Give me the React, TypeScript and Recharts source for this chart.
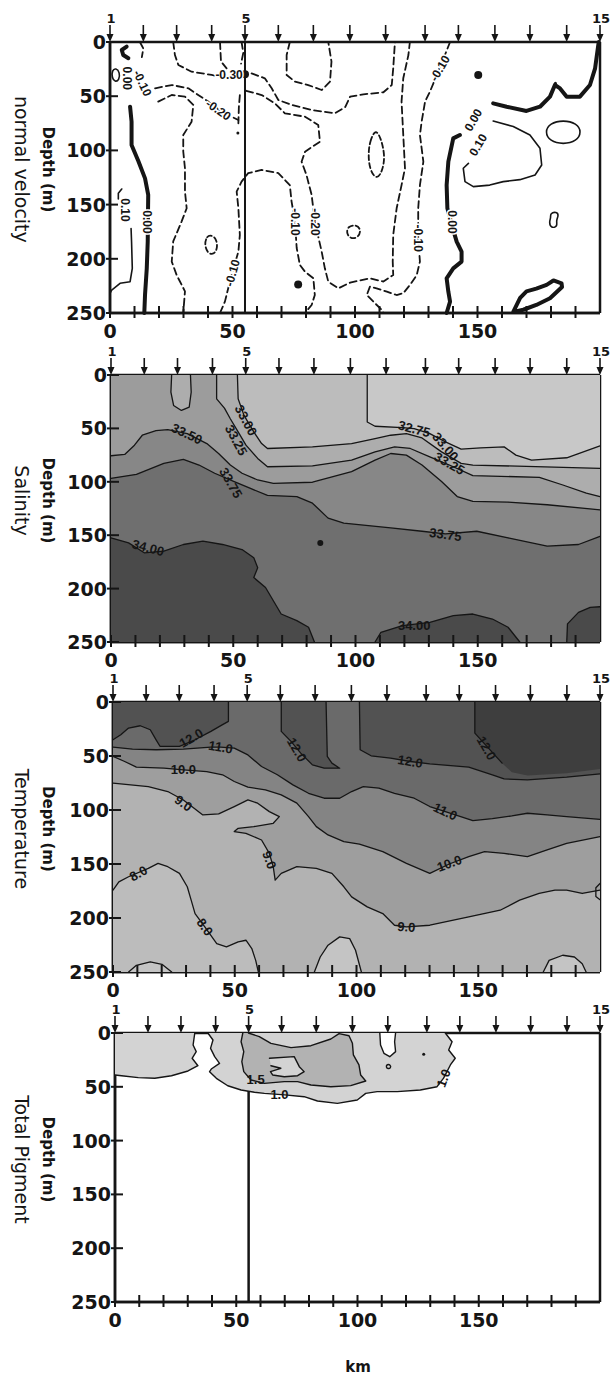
import React from 'react'
import { ScatterChart, Scatter, XAxis, YAxis, ReferenceLine } from 'recharts'

type XY = [number, number]
type Lbl = [string, number, number, number]

// stations along the section (km) and the ones that carry a number
const stationKm = [0, 13.6, 27.2, 41.5, 55.1, 68.7, 83, 97.9, 112.5, 128.6, 142.2, 157.1, 171.4, 186.4, 200]
const labeledStations = [1, 5, 15]
const kmTicks = [0, 10, 20, 30, 40, 50, 60, 70, 80, 90, 100, 110, 120, 130, 140, 150, 160, 170, 180, 190]
const depthTicks = [0, 50, 100, 150, 200, 250]

// ---- normal velocity ----
const velZero: XY[][] = [
  [[8.2, 59.7], [8.8, 73.5], [8.8, 95], [11.6, 110], [14.3, 125.8], [15.6, 141], [15.5, 160], [15.4, 184], [15, 209], [14.3, 233], [14, 250]],
  [[6.8, 4.3], [4.8, 7.4], [5.4, 12], [7.5, 15]],
  [[142.8, 85.8], [140.1, 88.9], [138.1, 110.4], [137.4, 132], [137.7, 153.4], [139.4, 168], [141.5, 184.2], [143.5, 193.4], [143.5, 202.6], [140.1, 208.8], [137.4, 218], [138.1, 230.3], [138.8, 239.5], [137.4, 250]],
  [[156.4, 56.6], [161.9, 59.7], [170, 63.6], [175.5, 59.7], [179.6, 50.4], [181.6, 39.7], [183.7, 42.8], [186.4, 50.4], [191.8, 50.4], [195.9, 39.7], [198, 24.3], [199.3, 2.8], [199.5, 0]],
  [[164.6, 249], [167.4, 236], [170, 230], [174, 227.5], [178.2, 224], [181, 220], [184.3, 222.6], [184.5, 226], [179.6, 236.4], [174, 242.6], [168.7, 247], [164.6, 249]],
]
const velPos: XY[][] = [
  [[0, 232], [0.7, 228.8], [4.1, 222.6], [8.2, 221.1], [9.1, 208.8], [8.8, 184.2], [8.6, 172]],
  [[4.8, 135.6], [3.4, 139.6], [3.4, 144.8]],
  [[156.4, 72.9], [164.6, 78], [171.4, 85.8], [175.5, 98], [176.2, 113.5], [173.5, 122.7], [167.3, 127], [160.5, 128.8], [155, 132], [148.3, 133.4], [144.9, 128.8], [144.2, 116.5], [146.3, 112]],
]
const velPosLoops: XY[][] = [
  [[177.5, 83], [179.5, 75], [185, 72], [190.5, 75], [192.5, 83], [190.5, 91.5], [185, 94.5], [179.5, 91.5]],
  [[179.6, 158], [182.3, 156.5], [183.2, 160], [182, 165], [182.8, 170], [180, 172], [179.2, 166], [180, 162]],
  [[0.8, 26], [2.5, 24], [4, 28], [3.8, 35], [2, 37], [0.8, 33]],
]
const velNeg: XY[][] = [
  [[12.2, 0], [13.6, 6], [13, 14]],
  [[18.4, 42.7], [25.2, 39.7], [32, 42.7], [36, 48.9], [40.1, 55], [44.2, 62], [49.6, 68.9], [52.4, 72]],
  [[19.7, 55], [25.2, 48.9], [30.6, 50.4], [34, 58], [33.3, 73.5], [29.9, 85.8], [29.9, 101], [30.6, 116.5], [30.6, 138], [31.3, 153.4], [29.2, 165.7], [25.8, 184], [25.2, 202.6], [27.2, 215], [30.6, 230], [29.9, 250]],
  [[25.8, 0], [26.5, 12], [27.9, 21.2], [33.3, 27.4], [41.5, 30.4], [44.2, 32]],
  [[44.9, 0], [45.3, 18], [47.6, 24.3]],
  [[44.9, 250], [46.9, 239.5], [49.6, 215], [52.4, 193.4], [53, 178], [52.4, 153.4], [51.7, 138], [53.7, 128.8], [56.4, 121], [61.9, 118], [68.7, 121], [73.4, 132], [74.1, 147], [75.5, 165.7], [76.2, 190], [77.5, 205.7], [79.6, 211.9], [83, 218], [83.6, 233.4], [82.3, 242.6], [79.6, 250]],
  [[57.8, 28.9], [63.2, 33.5], [66, 42.7], [68.7, 53.5], [74.1, 58], [82.3, 62.7], [91.8, 65.8], [96, 60], [98, 50.4], [103.4, 48.3], [111.6, 46.4], [115, 39.7], [115.6, 24.3], [116.3, 0]],
  [[55.6, 45], [61.9, 48.9], [67.3, 56.6], [71.4, 65.8], [79.6, 68.9], [85, 76.6], [85.7, 92], [79.6, 101.2], [78.2, 110.4], [80.2, 122.7], [82.3, 141.1], [83.6, 165.7], [86.4, 193.4], [87.7, 208.8], [89.1, 221.1], [93.2, 227.2], [98, 222], [106.1, 218], [111.6, 221], [115.6, 215], [115.4, 202.6], [115.6, 178], [117, 153.4], [119, 132], [120.4, 116.5], [119.7, 85.8], [119, 55], [119.7, 33.5], [121.8, 12], [122.4, 0]],
  [[138.8, 0], [136.7, 12], [130.6, 45.8], [128.6, 55], [127.2, 73.5], [126.5, 85.8], [127.9, 110.4], [126.5, 132], [125.8, 153.4], [125.8, 181], [126.5, 202.6], [125.2, 215], [122.4, 224.2], [119.7, 231.8], [117, 233.4], [113, 230.3], [108.8, 227.2], [106.1, 225.7], [104.8, 233.4], [107.5, 239.5], [110.9, 247.2], [111.6, 250]],
  [[73.4, 0], [72.1, 12], [72.1, 30.4], [75.5, 36.6], [80.9, 39.7], [86.4, 44.3], [89.8, 36.6], [90.4, 18.1], [89.1, 0]],
  [[53.7, 0], [54.4, 10], [53.5, 20]],
  [[53, 49], [52.6, 60], [52.4, 75]],
]
const velNegLoops: XY[][] = [
  [[38.5, 187], [39.5, 179], [41.5, 178], [43.5, 182], [43.9, 190], [42.5, 196], [40, 195.5]],
  [[105.4, 104], [106, 92], [108.3, 80], [110.5, 88], [112.2, 104], [111.5, 117], [109, 128], [106, 118]],
  [[97, 170], [100.5, 168.5], [102.5, 173], [101.5, 180], [98.5, 182], [96.5, 177]],
]
const velBigDots: XY[] = [[55.1, 29.8], [76.8, 223.6], [150.3, 30.4]]
const velSmallDots: XY[] = [[181.8, 38], [52.2, 84]]
const velLabels: Lbl[] = [
  ['0.00', 6.8, 33.5, 90], ['-0.10', 13.2, 38, 65], ['-0.20', 44.2, 62.7, 35], ['-0.30', 48.6, 30.4, 0],
  ['0.00', 15.3, 166, 90], ['0.10', 6.3, 155, 90], ['-0.10', 50, 213, -75], ['-0.10', 75.5, 166, 90],
  ['-0.20', 83.6, 166, 90], ['-0.10', 134.7, 24.3, -60], ['-0.10', 125.8, 181, 90], ['0.00', 139.4, 166, 90],
  ['0.00', 148.3, 72, -60], ['0.10', 150.3, 95, -60],
]

// ---- salinity ----
const sal3275: XY[] = [[104.8, 0], [104.8, 44], [108, 48], [119.2, 49.3], [124, 50.2], [130.4, 54.9], [136.8, 62.6], [143.2, 69.4], [151.2, 68.2], [160.8, 67.3], [165.6, 75], [172, 79.7], [186.4, 77.5], [200, 66.3]]
const sal3300: XY[] = [[51.7, 0], [52, 22.3], [54.4, 37.8], [58.4, 53.3], [61.6, 64.2], [64, 68.8], [82.4, 67.3], [98.4, 64.2], [108, 59.5], [114.4, 56.4], [120.8, 54.9], [127.2, 58.9], [135.2, 72], [143.2, 82.8], [148, 84.3], [200, 87.4]]
const sal3325: XY[] = [[43.2, 0], [43.2, 22.3], [46.4, 31], [48.8, 41], [52, 53.3], [55.2, 65.7], [60, 78.1], [64, 85.9], [82.4, 85], [98.4, 79.7], [108, 72], [116, 67.3], [122.4, 68.8], [130.4, 76.6], [138.4, 84.3], [148, 94.2], [175.2, 95.8], [184.8, 103], [194.4, 110.7], [200, 113.8]]
const sal3350: XY[] = [[0, 75.6], [5.6, 74.4], [9.6, 65.7], [12.8, 56.4], [18.4, 52.1], [23.2, 51.2], [31.2, 54.9], [39.2, 64.2], [44, 73.5], [48.8, 84.3], [53.6, 92], [60, 98.3], [66.4, 101.4], [82.4, 100.4], [98.4, 90.5], [108, 79.7], [114.4, 73.5], [120.8, 75], [127.2, 84.3], [135.2, 99.8], [141.6, 113.8], [148, 118.4], [162.4, 119], [178.4, 121.5], [200, 126.2]]
const sal3375: XY[] = [[0, 96.7], [10.4, 93], [21.6, 82.8], [29.6, 79], [36, 84.3], [42.4, 92], [50.4, 99.8], [56.8, 106], [64, 112.8], [76, 113.8], [82.4, 120], [88.8, 134], [95.2, 138.6], [114.4, 143.2], [127.2, 146.3], [136.8, 148.8], [149.6, 146.3], [162.4, 152.5], [178.4, 160.3], [191.2, 158.7], [200, 151]]
const sal3400: XY[][] = [
  [[0, 152.5], [7.2, 157.2], [13.6, 166.5], [21.6, 165], [29.6, 158.7], [37.6, 155.6], [45.6, 158.7], [53.6, 163.4], [58.4, 171.1], [60, 180.4], [58.4, 189.7], [63.2, 199], [66.4, 211.4], [69.6, 223.8], [76, 230], [80.8, 236.2], [83.2, 250]],
  [[108, 250], [110.4, 240.9], [119.2, 234.7], [130.4, 231.6], [140, 225.4], [148, 223.8], [156, 228.5], [162.4, 236.2], [167.2, 250]],
  [[186.4, 250], [186.7, 233], [191.2, 222.3], [196, 217.6], [200, 217]],
]
const salOval: XY[] = [[24.8, 0], [24.5, 16], [25.6, 28.5], [28.8, 33.2], [32, 30], [32.8, 16], [32.5, 0]]
const salDots: XY[] = [[85.6, 157.2]]
const salLabels: Lbl[] = [
  ['33.50', 31, 55, 25], ['33.75', 49, 101, 60], ['33.00', 55.2, 42.5, 62], ['33.25', 51.2, 61, 62],
  ['34.00', 15.2, 161.8, 15], ['32.75', 124, 50.5, 15], ['33.00', 136.8, 67, 50], ['33.25', 138.4, 82.8, 30],
  ['33.75', 136.8, 149.4, 8], ['34.00', 124, 234.7, 0],
]

// ---- temperature ----
const tem12a: XY[] = [[47.4, 0], [47.4, 17.9], [45, 21], [40.2, 27.2], [33.7, 35], [27.3, 41], [19.3, 41], [17.7, 35], [15.3, 25.7], [11.2, 22], [6.4, 24.1], [3.2, 30.3], [0, 35]]
const tem12b: XY[] = [[69.1, 0], [69.1, 27.2], [73.1, 36.5], [77.1, 47.3], [81.9, 58.2], [86.7, 61.3], [93.1, 61.3], [89.9, 56.6], [88, 50.4], [87.5, 0]]
const tem12c: XY[] = [[101.2, 0], [101.5, 44.2], [106, 49.8], [114, 52], [122.1, 55.1], [130.1, 57.2], [146.1, 60.3], [155.8, 67.4], [160.6, 71.2], [170.2, 72.1], [186.3, 69.6], [200, 66.5]]
const tem13: XY[] = [[148.6, 0], [148.6, 28.8], [154.2, 42.7], [159.8, 56.6], [163.8, 65], [170.2, 68], [186.3, 66], [200, 62]]
const tem11: XY[] = [[0, 41.8], [8, 43.6], [17.7, 44.2], [28.9, 43.6], [40.2, 41.8], [44.2, 41.8], [49.8, 42.7], [55.4, 49], [61, 59.7], [67.5, 67.4], [73.9, 76.7], [80.3, 84.5], [86.7, 89.1], [93.1, 89.1], [98, 82.9], [102.8, 78.3], [109.2, 79.8], [115.6, 84.5], [123.7, 89.1], [130.1, 96.8], [136.5, 101.5], [147.8, 109.8], [155.8, 108], [163.8, 105.5], [170.2, 103], [178.3, 104.6], [186.3, 106.1], [200, 108.6]]
const tem10: XY[] = [[0, 50.4], [4.8, 55.1], [9.6, 60.3], [20.9, 61.3], [28.9, 62.8], [38.5, 64.4], [45, 67.4], [49.8, 73.6], [55.4, 78.9], [62.6, 81.4], [69.1, 86], [75.5, 93.7], [80.3, 106.1], [83.5, 115.4], [88.3, 123.1], [94.8, 129.3], [101.2, 131.5], [110.8, 138.6], [120.5, 149.4], [130.1, 158.7], [138.1, 150], [146.1, 143.2], [152.6, 138.6], [160.6, 140.2], [170.2, 143.2], [178.3, 137], [186.3, 130.9], [200, 124.7]]
const tem9: XY[] = [[0, 75.2], [14.5, 78.3], [22.5, 82.9], [28.9, 90.7], [36.9, 104.6], [43.4, 103.6], [49.8, 96.8], [55.4, 90.7], [59.4, 93.7], [64.2, 101.5], [68.3, 106.1], [65.8, 112.3], [57.8, 115.4], [51.4, 117], [49.8, 120], [54.6, 121.6], [61, 127.8], [64.2, 140.2], [65.8, 152.5], [66.6, 164.9], [69.1, 158.7], [75.5, 152.5], [83.5, 154.1], [89.9, 158.7], [94.8, 171.1], [98, 180.4], [104.4, 189.7], [110.8, 195.9], [115.6, 206.7], [120.5, 208.3], [130.1, 206.7], [146.1, 199], [159, 192.8], [167, 183.5], [175, 177.3], [181.5, 174.2], [186.3, 174.2], [192.7, 177.3], [200, 174.2]]
const tem8: XY[] = [[0, 174.2], [2.4, 166.5], [6.4, 161.8], [14.5, 154.1], [18.5, 149.4], [22.5, 152.5], [27.3, 158.7], [30.5, 171.1], [32.1, 183.5], [33.7, 195.9], [37.7, 208.3], [42.6, 223.7], [46.6, 226.8], [51.4, 222.1], [54.6, 220.6], [57, 228.3], [58.6, 239.2], [59.7, 250]]
const temBumps: XY[][] = [
  [[6.4, 250], [9.6, 243.8], [15.3, 240.7], [20.1, 242.9], [24.1, 250]],
  [[82.7, 250], [85.1, 236.1], [88.3, 225.2], [93.1, 217.5], [97.2, 219.1], [99.6, 229.9], [102, 250]],
  [[176.7, 250], [179.1, 239.2], [184.7, 234.5], [189.5, 236.1], [192.7, 242.3], [194.3, 250]],
  [[200, 168], [198.3, 172], [198.3, 180], [200, 183]],
]
const temLabels: Lbl[] = [
  ['12.0', 32.1, 33.4, -30], ['11.0', 44.2, 41.8, 10], ['10.0', 28.9, 62.8, 0], ['9.0', 28.9, 93.7, 35],
  ['9.0', 64.2, 146.3, 70], ['8.0', 10.4, 158.7, -30], ['8.0', 37.7, 208.3, 55], ['12.0', 75.5, 44.2, 60],
  ['12.0', 122.1, 55.1, 10], ['12.0', 153.4, 42.7, 60], ['11.0', 136.5, 101.5, 25], ['10.0', 138.1, 149.4, -20],
  ['9.0', 120.5, 208.3, 5],
]

// ---- total pigment ----
const pigLeft: XY[] = [[0, 0], [32.9, 0], [32.2, 11.2], [33.5, 17.3], [31.8, 23.5], [34.2, 30.4], [30.1, 35.3], [23.3, 39.7], [16.4, 42.1], [9.6, 41.5], [2.7, 39.7], [0, 39]]
const pigMain: XY[] = [[38.3, 0], [40.4, 6.5], [39.4, 14.3], [41.1, 22], [43.1, 28.2], [39.7, 33.5], [39, 35.9], [41.8, 42.1], [46.5, 49], [52, 53], [57.5, 55.1], [61.6, 56.1], [70, 57.5], [78, 59.2], [83.5, 63.2], [91.7, 65.4], [99.9, 62.3], [103.4, 56.1], [108.1, 54.5], [116.4, 54.5], [125.9, 53], [132.8, 49.9], [135.5, 42], [138.3, 29.7], [140.3, 23.5], [137.6, 15.8], [139, 8.1], [136.2, 0]]
const pigHole: XY[] = [[109.2, 0], [109.5, 11.2], [110.9, 18.9], [113.3, 22], [115.7, 17.3], [115.3, 8.1], [115.7, 0]]
const pigCore: XY[] = [[55, 0], [59.5, 3.4], [64.3, 9.6], [72.6, 13.6], [80.8, 11.8], [89, 5.6], [92.4, 0.6], [96.5, 2.5], [97.9, 9.6], [98.3, 20.4], [100.6, 29.7], [101.3, 39], [103.4, 44.6], [97.2, 48.9], [89, 49.9], [80.8, 48.3], [75.3, 45.2], [69.8, 45.2], [61.6, 46.8], [56.1, 43.7], [53.1, 35.9], [52.3, 26.6], [53.1, 17.3], [52, 8.1], [52.7, 0]]
const pigIsland: XY[] = [[63.7, 23.5], [73.9, 22], [76, 31.3], [78, 35.9], [75.3, 39.7], [69.8, 40.6], [65, 39], [64.1, 35.9], [68.4, 32.8], [64.3, 30.4]]
const pigLoop: XY[] = [[112.2, 29], [113.6, 29.5], [113.8, 32.5], [112.5, 33.5], [111.7, 31.5]]
const pigDots: XY[] = [[127.3, 19.8]]
const pigLabels: Lbl[] = [['1.5', 58, 43, 0], ['1.0', 67.8, 57.6, 0], ['1.0', 135.5, 42, -70]]

const INK = '#151515'
const TICK_FONT = { fontFamily: 'DejaVu Sans', fontWeight: 700, fontSize: 19 }
const pts = (a: XY[]) => a.map(([x, y]) => ({ x, y }))
const noDot = () => null

function area(key: string, a: XY[], fill: string) {
  return (
    <Scatter key={key} data={pts(a)} shape={noDot} isAnimationActive={false}
      line={{ fill, stroke: 'none' }} lineJointType="linearClosed" />
  )
}

function contour(key: string, a: XY[], width: number, dash?: string, closed?: boolean) {
  return (
    <Scatter key={key} data={pts(a)} shape={noDot} isAnimationActive={false}
      line={{ stroke: INK, strokeWidth: width, strokeDasharray: dash, fill: 'none', strokeLinejoin: 'round', strokeLinecap: 'round' }}
      lineJointType={closed ? 'basisClosed' : 'linear'} />
  )
}

function dots(key: string, a: XY[], r: number) {
  return (
    <Scatter key={key} data={pts(a)} isAnimationActive={false}
      shape={(p: any) => <circle cx={p.cx} cy={p.cy} r={r} fill={INK} />} />
  )
}

function labels(key: string, list: Lbl[], halo: boolean, size: number) {
  const data = list.map(([t, x, y, a]) => ({ x, y, t, a }))
  return (
    <Scatter key={key} data={data} isAnimationActive={false}
      shape={(p: any) => (
        <text x={p.cx} y={p.cy} transform={`rotate(${p.payload.a} ${p.cx} ${p.cy})`} textAnchor="middle"
          dominantBaseline="central" fontFamily="Liberation Sans" fontWeight={700} fontSize={size} fill={INK}
          stroke={halo ? '#fff' : 'none'} strokeWidth={3} paintOrder="stroke">{p.payload.t}</text>
      )} />
  )
}

function stations() {
  const data = stationKm.map((x, i) => ({ x, y: 0, n: i + 1 }))
  return (
    <Scatter key="stations" data={data} isAnimationActive={false}
      shape={(p: any) => (
        <g>
          <line x1={p.cx} x2={p.cx} y1={p.cy - 17} y2={p.cy - 6} stroke={INK} strokeWidth={1.6} />
          <path d={`M${p.cx - 3.5},${p.cy - 8}L${p.cx + 3.5},${p.cy - 8}L${p.cx},${p.cy}Z`} fill={INK} />
          {labeledStations.includes(p.payload.n) && (
            <text x={p.cx + 1} y={p.cy - 19} textAnchor="middle" fontFamily="DejaVu Sans" fontWeight={700}
              fontSize={13} fill={INK}>{p.payload.n}</text>
          )}
        </g>
      )} />
  )
}

const under = (a: XY[]): XY[] => [...a, [200, 250], [0, 250], [0, 0]]
const above = (a: XY[]): XY[] => [...a, [200, 0], [0, 0]]
const full: XY[] = [[0, 0], [200, 0], [200, 250], [0, 250]]

function velocitySeries() {
  return [
    ...velZero.map((c, i) => contour(`vz${i}`, c, 4)),
    ...velPos.map((c, i) => contour(`vp${i}`, c, 1.6)),
    ...velPosLoops.map((c, i) => contour(`vpl${i}`, c, 1.6, undefined, true)),
    ...velNeg.map((c, i) => contour(`vn${i}`, c, 1.8, '7 4')),
    ...velNegLoops.map((c, i) => contour(`vnl${i}`, c, 1.8, '5 3', true)),
    dots('vbd', velBigDots, 4),
    dots('vsd', velSmallDots, 1.5),
    labels('vl', velLabels, true, 12),
  ]
}

function salinitySeries() {
  return [
    area('sb', full, '#c8c8c8'),
    area('s1', under(sal3275), '#bcbcbc'),
    area('s2', under(sal3300), '#adadad'),
    area('s3', under(sal3325), '#9c9c9c'),
    area('so', salOval, '#adadad'),
    area('s4', [...sal3350, [200, 250], [0, 250]], '#878787'),
    area('s5', [...sal3375, [200, 250], [0, 250]], '#6f6f6f'),
    area('s6a', [...sal3400[0], [0, 250]], '#4a4a4a'),
    area('s6b', sal3400[1], '#4a4a4a'),
    area('s6c', [...sal3400[2], [200, 250]], '#4a4a4a'),
    ...[sal3275, sal3300, sal3325, sal3350, sal3375, salOval, ...sal3400].map((c, i) => contour(`sc${i}`, c, 1.3)),
    dots('sd', salDots, 3),
    labels('sl', salLabels, false, 13),
  ]
}

function temperatureSeries() {
  return [
    area('tb', full, '#b2b2b2'),
    area('t8', [...tem8, [0, 250]], '#bcbcbc'),
    ...temBumps.slice(0, 3).map((c, i) => area(`tbu${i}`, c, '#c4c4c4')),
    area('t9', above(tem9), '#9e9e9e'),
    area('t10', above(tem10), '#848484'),
    area('t11', above(tem11), '#6a6a6a'),
    area('t12a', [...tem12a, [0, 0]], '#525252'),
    area('t12b', tem12b, '#525252'),
    area('t12c', [...tem12c, [200, 0]], '#525252'),
    area('t13', [...tem13, [200, 0]], '#3e3e3e'),
    ...[tem12a, tem12b, tem12c, tem13.slice(0, 4), tem11, tem10, tem9, tem8, ...temBumps].map((c, i) => contour(`tc${i}`, c, 1.3)),
    labels('tl', temLabels, false, 13),
  ]
}

function pigmentSeries() {
  return [
    area('pl', pigLeft, '#d3d3d3'),
    area('pm', pigMain, '#d3d3d3'),
    area('ph', pigHole, '#ffffff'),
    area('pc', pigCore, '#b2b2b2'),
    area('pi', pigIsland, '#d3d3d3'),
    ...[pigLeft.slice(1), pigMain, pigHole, pigCore, pigIsland].map((c, i) => contour(`pc${i}`, c, 1.4)),
    contour('ploop', pigLoop, 1.4, undefined, true),
    dots('pd', pigDots, 1.5),
    labels('plab', pigLabels, false, 13),
  ]
}

function KmTick(props: any) {
  const { x, y, payload } = props
  return (
    <g>
      <line x1={x} x2={x} y1={y - 7} y2={y + 5} stroke={INK} strokeWidth={2} />
      {payload.value % 50 === 0 && (
        <text x={x} y={y + 25} textAnchor="middle" fill={INK} {...TICK_FONT}>{payload.value}</text>
      )}
    </g>
  )
}

function DepthTick(props: any) {
  const { x, y, payload } = props
  return (
    <g>
      <line x1={x - 4} x2={x + 8} y1={y} y2={y} stroke={INK} strokeWidth={2} />
      <text x={x - 4} y={y + 7} textAnchor="end" fill={INK} {...TICK_FONT}>{payload.value}</text>
    </g>
  )
}

const panels = [
  { key: 'vel', top: 42, left: 110, right: 600, bottom: 313, title: 'normal velocity', st5: 2, series: velocitySeries },
  { key: 'sal', top: 375, left: 111, right: 600, bottom: 642, title: 'Salinity', st5: 1.2, series: salinitySeries },
  { key: 'tem', top: 702, left: 113, right: 600, bottom: 972, title: 'Temperature', st5: 1.2, series: temperatureSeries },
  { key: 'pig', top: 1033, left: 115, right: 600, bottom: 1302, title: 'Total Pigment', st5: 2.5, series: pigmentSeries },
]

const PAD_TOP = 45
const PAD_BOTTOM = 60
const frame = { stroke: INK, strokeWidth: 2.5 }

function Panel({ cfg }: { cfg: typeof panels[number] }) {
  const plotH = cfg.bottom - cfg.top
  return (
    <div style={{ position: 'absolute', left: 0, top: cfg.top - PAD_TOP }}>
      <ScatterChart width={613} height={PAD_TOP + plotH + PAD_BOTTOM}
        margin={{ top: PAD_TOP, right: 613 - cfg.right, bottom: PAD_BOTTOM - 40, left: 0 }}>
        <XAxis type="number" dataKey="x" domain={[0, 200]} ticks={kmTicks} interval={0} height={40}
          tickSize={0} tickMargin={0} tickLine={false} axisLine={frame} tick={(p: any) => <KmTick {...p} />} />
        <YAxis type="number" dataKey="y" domain={[0, 250]} reversed ticks={depthTicks} interval={0} width={cfg.left}
          tickSize={0} tickMargin={0} tickLine={false} axisLine={frame} tick={(p: any) => <DepthTick {...p} />} />
        {cfg.series()}
        <ReferenceLine x={stationKm[4]} stroke={INK} strokeWidth={cfg.st5} />
        <ReferenceLine y={0} {...frame} />
        <ReferenceLine y={250} {...frame} />
        <ReferenceLine x={0} {...frame} />
        <ReferenceLine x={200} {...frame} />
        {stations()}
      </ScatterChart>
    </div>
  )
}

export default function App() {
  return (
    <div style={{ position: 'absolute', left: 0, top: 0, width: 613, height: 1380, background: '#fff', overflow: 'hidden' }}>
      {panels.map(cfg => <Panel key={cfg.key} cfg={cfg} />)}
      <svg width={613} height={1380} style={{ position: 'absolute', left: 0, top: 0, pointerEvents: 'none' }}>
        {panels.map(cfg => {
          const cy = cfg.top + (cfg.bottom - cfg.top) * 0.47
          return (
            <g key={cfg.key}>
              <text transform={`translate(48 ${cy}) rotate(90)`} textAnchor="middle" dominantBaseline="central"
                fontFamily="DejaVu Sans" fontWeight={700} fontSize={15} fill={INK}>Depth (m)</text>
              <text transform={`translate(22 ${cy}) rotate(90)`} textAnchor="middle" dominantBaseline="central"
                fontFamily="DejaVu Sans" fontSize={19} fill={INK}>{cfg.title}</text>
            </g>
          )
        })}
        <text x={358} y={1372} textAnchor="middle" fontFamily="DejaVu Sans" fontWeight={700} fontSize={15} fill={INK}>km</text>
      </svg>
    </div>
  )
}
